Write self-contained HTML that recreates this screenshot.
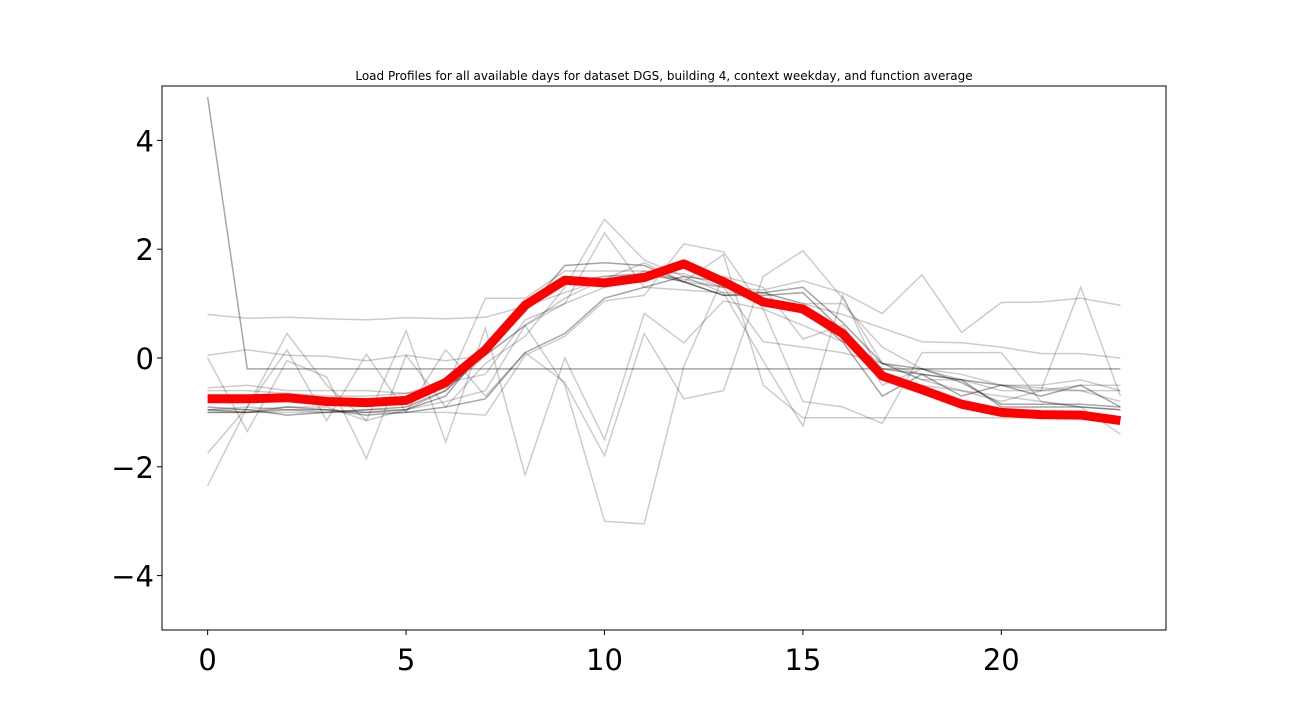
<!DOCTYPE html>
<html><head><meta charset="utf-8"><style>
html,body{margin:0;padding:0;background:#fff;}
svg text{font-family:"DejaVu Sans","Liberation Sans",sans-serif;}
</style></head><body>
<svg id="chart" width="1296" height="720" xmlns="http://www.w3.org/2000/svg">
<text x="664" y="80" font-size="12" text-anchor="middle">Load Profiles for all available days for dataset DGS, building 4, context weekday, and function average</text>
<g id="lines"></g>
<g id="axes"></g>
<rect x="162" y="86" width="1004" height="544" fill="none" stroke="#000" stroke-width="1"/>
</svg>
<script>
const hours=[0,1,2,3,4,5,6,7,8,9,10,11,12,13,14,15,16,17,18,19,20,21,22,23];
const dayProfiles=[
[4.8,-0.2,-0.2,-0.2,-0.2,-0.2,-0.2,-0.2,-0.2,-0.2,-0.2,-0.2,-0.2,-0.2,-0.2,-0.2,-0.2,-0.2,-0.2,-0.2,-0.2,-0.2,-0.2,-0.2],
[0.8,0.73,0.75,0.72,0.7,0.74,0.72,0.75,0.95,1.2,1.45,1.55,1.45,1.3,1.25,1.42,1.2,0.82,1.53,0.47,1.02,1.03,1.1,0.97],
[0.05,0.15,0.05,0.03,-0.05,0.05,-0.05,0.05,0.6,1.0,1.3,1.6,1.55,1.3,1.2,1.0,0.8,0.55,0.3,0.28,0.2,0.08,0.08,0],
[-0.55,-0.5,-0.6,-0.6,-0.6,-0.65,-0.55,1.1,1.1,1.6,1.6,1.6,1.4,1.3,0.3,0.2,0.1,-0.1,-0.3,-0.4,-0.6,-0.6,-0.5,-0.5],
[-0.95,-0.9,-0.95,-1.0,-0.95,-0.95,-0.6,0.05,0.6,-0.5,-3.0,-3.05,-0.15,1.5,1.3,0.35,0.6,-0.5,-0.2,-0.4,-0.5,-0.5,-0.4,-0.6],
[-1.75,-0.9,0.45,-0.5,-1.15,0.5,-1.55,0.55,-2.15,0.0,-1.5,0.82,0.28,1.05,0.9,-0.8,-0.9,-1.2,0.1,0.1,0.1,-0.8,-0.9,-1.4],
[-2.35,-0.9,0.15,-1.15,0.07,-1.0,0.15,-0.7,0.1,-0.45,-1.8,0.45,-0.75,-0.6,1.5,1.97,1.1,-0.1,-0.4,-0.6,-0.7,-0.8,-0.9,-0.95],
[0.0,-1.35,-0.05,-0.35,-1.85,0.05,-0.9,-0.1,0.4,1.3,2.55,1.8,1.5,1.2,-0.05,-1.25,1.15,-0.4,-0.5,-0.6,-0.8,-0.6,1.3,-0.7],
[-0.9,-0.95,-1.05,-1.0,-0.95,-0.9,-0.6,0.1,0.85,1.7,1.75,1.7,1.4,1.15,1.2,1.3,0.65,-0.1,-0.2,-0.45,-0.85,-0.85,-0.85,-0.9],
[-0.95,-1.0,-0.95,-0.95,-1.0,-0.95,-0.7,0.2,0.9,1.4,1.5,1.55,1.4,1.15,1.15,1.2,0.5,-0.2,-0.3,-0.4,-0.9,-0.9,-0.9,-0.95],
[-1.0,-1.0,-0.9,-0.95,-1.05,-1.0,-0.9,-0.75,0.1,0.45,1.1,1.3,1.5,1.4,1.1,0.9,0.3,-0.7,-0.3,-0.7,-0.5,-0.7,-0.5,-0.9],
[-0.6,-0.6,-0.65,-0.7,-0.7,-0.65,-0.45,-0.3,0.7,1.0,2.3,1.3,1.25,1.2,1.2,1.0,1.0,0.2,-0.2,-0.3,-0.5,-0.6,-0.6,-0.6],
[-0.95,-0.95,-0.9,-0.9,-1.15,-0.95,-0.8,-0.6,0.6,1.1,1.45,1.75,1.4,1.9,-0.5,-1.1,-1.1,-1.1,-1.1,-1.1,-1.1,-1.1,-1.1,-1.1],
[-1.0,-1.0,-1.0,-1.0,-1.0,-1.0,-1.0,-1.05,0.05,0.4,1.05,1.15,2.1,1.95,0.9,0.6,0.3,-0.1,-0.4,-0.4,-0.5,-0.55,-0.6,-0.8]
];
const averageProfile=[-0.75,-0.75,-0.73,-0.8,-0.82,-0.78,-0.45,0.15,0.97,1.43,1.38,1.48,1.73,1.4,1.03,0.9,0.45,-0.33,-0.58,-0.85,-1.0,-1.04,-1.05,-1.15];
const xTicks=[0,5,10,15,20];
const yTicks=[-4,-2,0,2,4];
const yTickLabels=["\u22124","\u22122","0","2","4"];

const NS="http://www.w3.org/2000/svg";
const X0=162,X1=1166,Y0=86,Y1=630,xmin=-1.15,xmax=24.15,ymin=-5,ymax=5;
function sx(v){return X0+(v-xmin)/(xmax-xmin)*(X1-X0);}
function sy(v){return Y1-(v-ymin)/(ymax-ymin)*(Y1-Y0);}
function pts(a){return a.map((v,i)=>sx(hours[i]).toFixed(1)+","+sy(v).toFixed(1)).join(" ");}
const lg=document.getElementById("lines");
dayProfiles.forEach((p,k)=>{
  const pl=document.createElementNS(NS,"polyline");
  
  
  pl.setAttribute("points",pts(p));
  pl.setAttribute("fill","none");
  pl.setAttribute("stroke","#000");
  pl.setAttribute("stroke-opacity",k===0?"0.35":(k>=8&&k<=10?"0.35":"0.2"));
  pl.setAttribute("stroke-width","1.5");
  lg.appendChild(pl);
});
const avg=document.createElementNS(NS,"polyline");


avg.setAttribute("points",pts(averageProfile));
avg.setAttribute("fill","none");
avg.setAttribute("stroke","#ff0000");
avg.setAttribute("stroke-width","9");
avg.setAttribute("stroke-linejoin","round");
lg.appendChild(avg);
const ax=document.getElementById("axes");
xTicks.forEach(t=>{
  const l=document.createElementNS(NS,"line");
  
  
  l.setAttribute("x1",sx(t));l.setAttribute("x2",sx(t));l.setAttribute("y1",Y1);l.setAttribute("y2",Y1+5);
  l.setAttribute("stroke","#000");
  ax.appendChild(l);
  const tx=document.createElementNS(NS,"text");
  
  
  tx.setAttribute("x",sx(t));tx.setAttribute("y",Y1+40);
  tx.setAttribute("font-size","29");tx.setAttribute("text-anchor","middle");
  tx.textContent=t;
  ax.appendChild(tx);
});
yTicks.forEach((t,i)=>{
  const l=document.createElementNS(NS,"line");
  
  
  l.setAttribute("x1",X0-5);l.setAttribute("x2",X0);l.setAttribute("y1",sy(t));l.setAttribute("y2",sy(t));
  l.setAttribute("stroke","#000");
  ax.appendChild(l);
  const tx=document.createElementNS(NS,"text");
  
  
  tx.setAttribute("x",X0-8);tx.setAttribute("y",sy(t)+11);
  tx.setAttribute("font-size","29");tx.setAttribute("text-anchor","end");
  tx.textContent=yTickLabels[i];
  ax.appendChild(tx);
});
</script>
</body></html>
